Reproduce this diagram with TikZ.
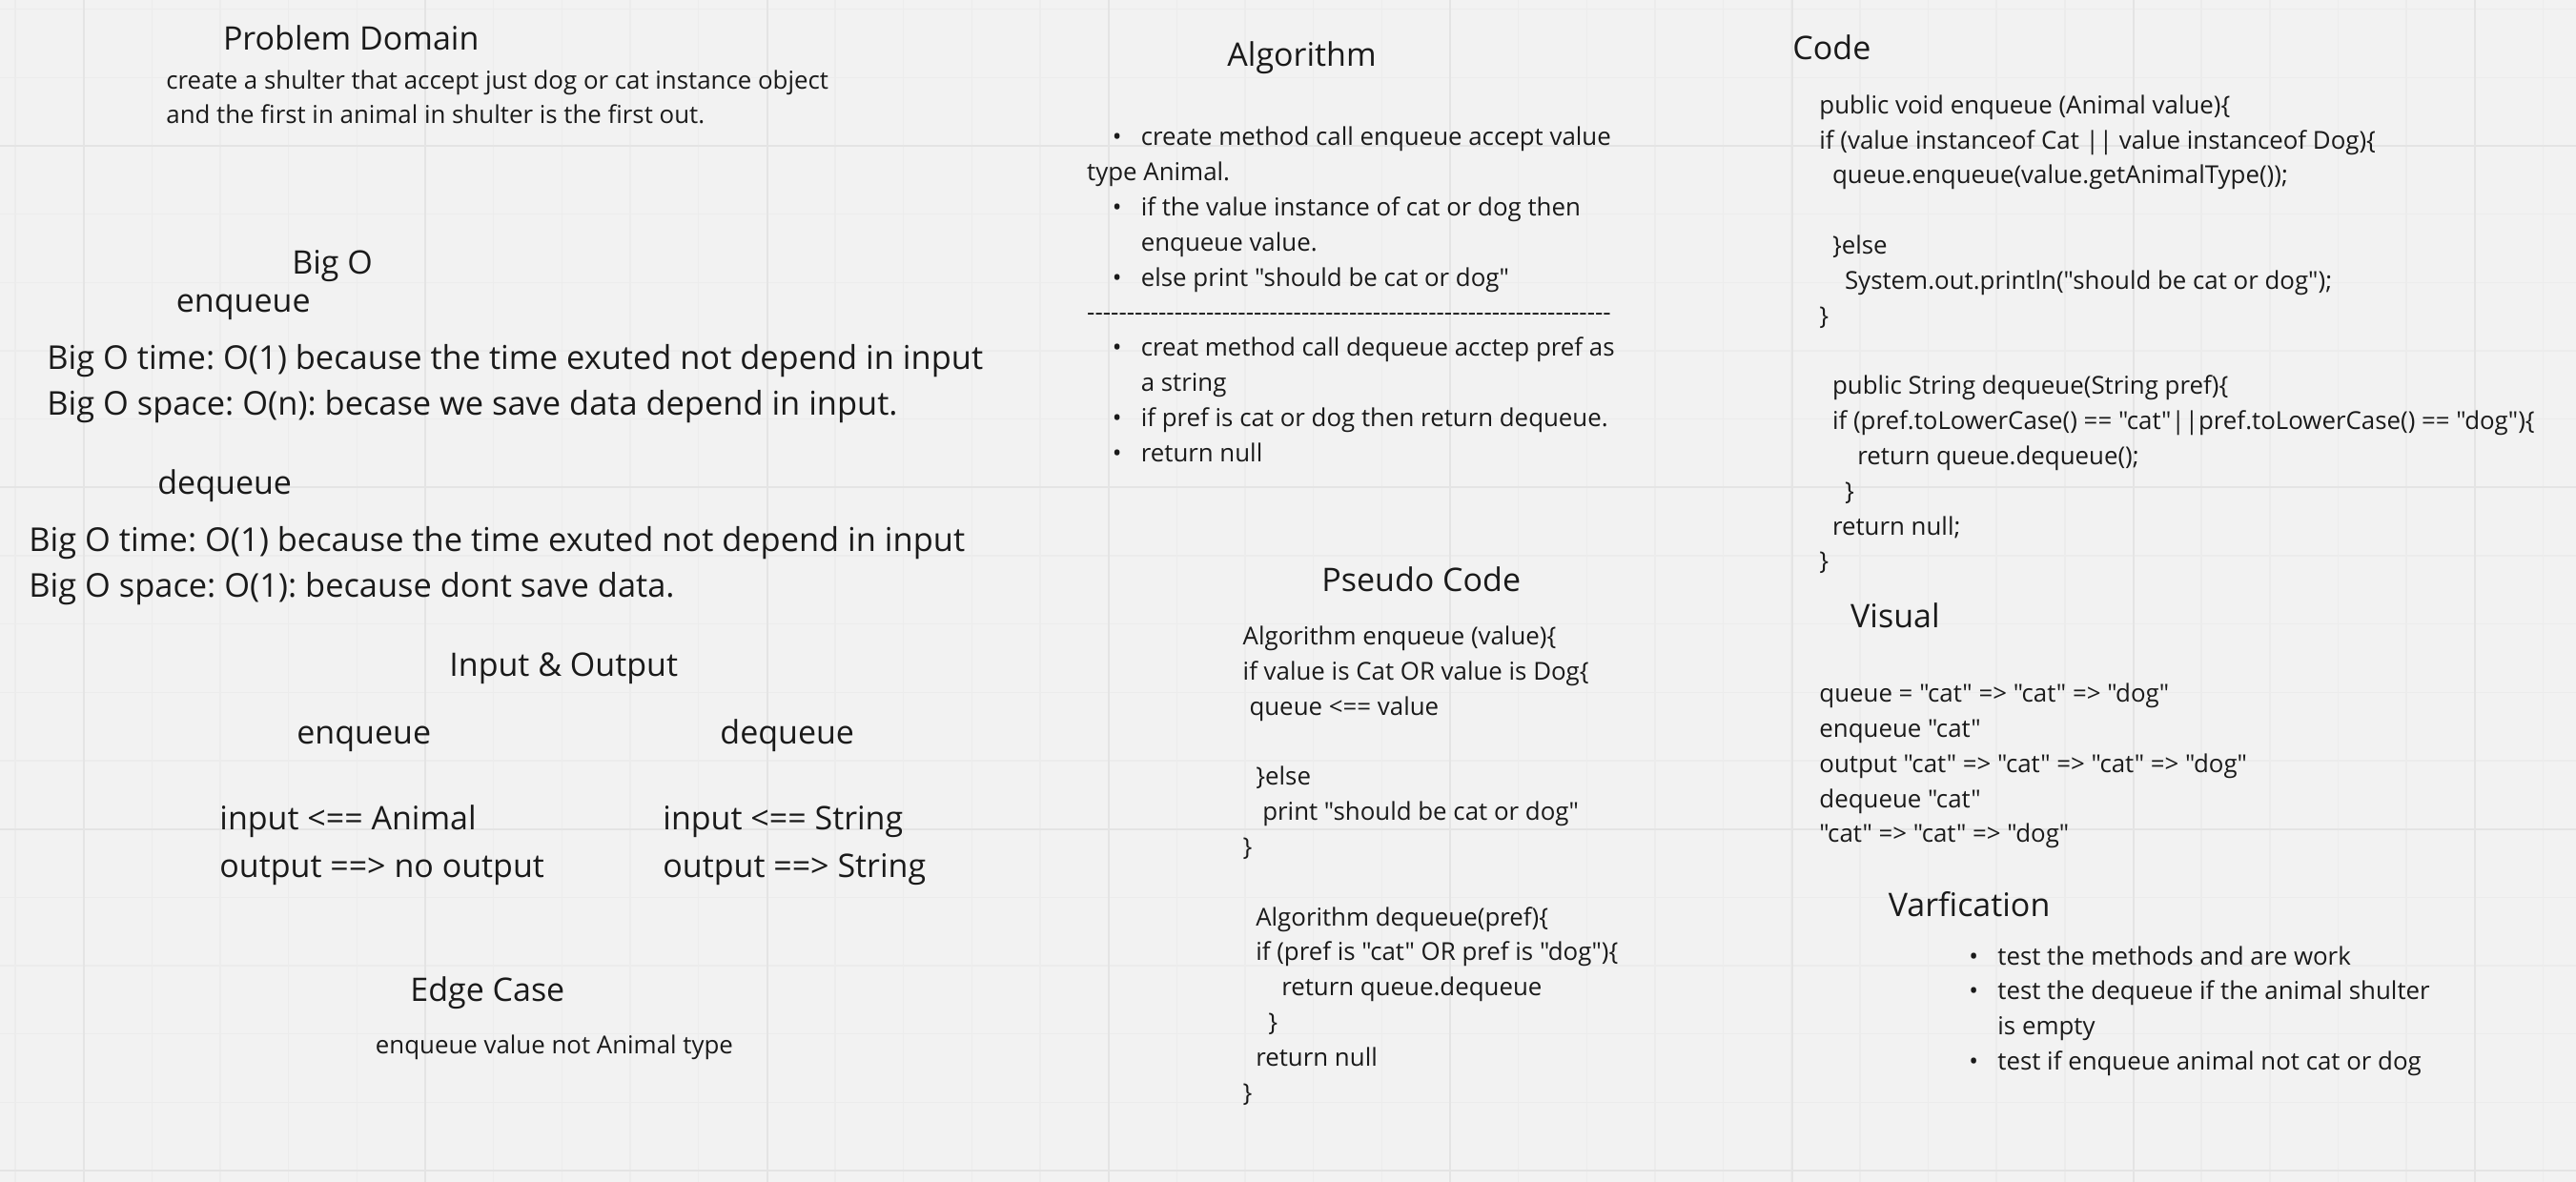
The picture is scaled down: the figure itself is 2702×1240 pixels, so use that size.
\documentclass[tikz,border=0pt]{standalone}
\usepackage{fontspec}
\setmainfont{Open Sans}[Ligatures=TeXOff]
\frenchspacing

\definecolor{board}{RGB}{242,242,242}
\definecolor{gridmajor}{RGB}{228,228,228}
\definecolor{gridminor}{RGB}{236,236,236}
\definecolor{ink}{RGB}{26,26,26}

\newcommand{\bul}{\makebox[15pt][l]{•}}

% multi-line nodes sit on the baseline of their last line
\tikzset{
  head/.style={anchor=base west, inner sep=0, text=ink,
    font=\fontsize{17}{20}\selectfont},
  note/.style={anchor=base west, inner sep=0, align=left, text=ink,
    font=\fontsize{12.93}{18.4}\selectfont},
  bigline/.style={anchor=base west, inner sep=0, align=left, text=ink,
    font=\fontsize{17.2}{23.8}\selectfont},
  ioline/.style={anchor=base west, inner sep=0, align=left, text=ink,
    font=\fontsize{17}{25}\selectfont}
}

\begin{document}
\begin{tikzpicture}[x=0.5pt, y=-0.5pt]
  % board
  \fill[board] (0,0) rectangle (2702,1240);
  \useasboundingbox (0,0) rectangle (2702,1240);
  \foreach \k in {0,...,37}
    \draw[gridminor, line width=0.7pt] ({16+71.66*\k},0) -- ({16+71.66*\k},1240);
  \foreach \k in {0,...,17}
    \draw[gridminor, line width=0.7pt] (0,{9.7+71.66*\k}) -- (2702,{9.7+71.66*\k});
  \foreach \k in {0,...,7}
    \draw[gridmajor, line width=1pt] ({88+358.3*\k},0) -- ({88+358.3*\k},1240);
  \foreach \k in {0,...,3}
    \draw[gridmajor, line width=1pt] (0,{153+358.3*\k}) -- (2702,{153+358.3*\k});

  % left column
  \node[head] (prob) at (233.6,52.6) {Problem Domain};
  \node[note] (probtxt) at (174,130)
    {create a shulter that accept just dog or cat instance object\\
     and the first in animal in shulter is the first out.};
  \node[head] (bigo) at (305.9,288) {Big O};
  \node[head] (bigoenq) at (184.5,327.5) {enqueue};
  \node[bigline] (bigoenqtxt) at (49,435.5)
    {Big O time: O(1) because the time exuted not depend in input\\
     Big O space: O(n): becase we save data depend in input.};
  \node[head] (bigodeq) at (165,518.5) {dequeue};
  \node[bigline] (bigodeqtxt) at (30,626)
    {Big O time: O(1) because the time exuted not depend in input\\
     Big O space: O(1): because dont save data.};
  \node[head] (io) at (471,709) {Input \& Output};
  \node[head] (ioenq) at (311,780) {enqueue};
  \node[head] (iodeq) at (755,780) {dequeue};
  \node[ioline] (ioenqtxt) at (230,920)
    {input <== Animal\\
     output ==> no output};
  \node[ioline] (iodeqtxt) at (695,920)
    {input <== String\\
     output ==> String};
  \node[head] (edge) at (430,1050) {Edge Case};
  \node[note] (edgetxt) at (393.5,1105) {enqueue value not Animal type};

  % middle column
  \node[head] (algo) at (1287,70) {Algorithm};
  \node[note] (algotxt) at (1139.8,484.2)
    {\hspace*{13.3pt}\bul create method call enqueue accept value\\
     type Animal.\\
     \hspace*{13.3pt}\bul if the value instance of cat or dog then\\
     \hspace*{28.3pt}enqueue value.\\
     \hspace*{13.3pt}\bul else print "should be cat or dog"\\
     \foreach \d in {1,...,66}{-}\\
     \hspace*{13.3pt}\bul creat method call dequeue acctep pref as\\
     \hspace*{28.3pt}a string\\
     \hspace*{13.3pt}\bul if pref is cat or dog then return dequeue.\\
     \hspace*{13.3pt}\bul return null};
  \node[head] (pseudo) at (1386,620.5) {Pseudo Code};
  \node[note] (pseudotxt) at (1303.3,1155)
    {Algorithm enqueue (value)\{\\
     if value is Cat OR value is Dog\{\\
     \hspace*{3.4pt}queue <== value\\
     \\
     \hspace*{6.8pt}\}else\\
     \hspace*{10.3pt}print "should be cat or dog"\\
     \}\\
     \\
     \hspace*{6.8pt}Algorithm dequeue(pref)\{\\
     \hspace*{6.8pt}if (pref is "cat" OR pref is "dog")\{\\
     \hspace*{20.3pt}return queue.dequeue\\
     \hspace*{13.3pt}\}\\
     \hspace*{6.8pt}return null\\
     \}};

  % right column
  \node[head] (code) at (1880,63) {Code};
  \node[note] (codetxt) at (1908,597.8)
    {public void enqueue (Animal value)\{\\
     if (value instanceof Cat || value instanceof Dog)\{\\
     \hspace*{6.8pt}queue.enqueue(value.getAnimalType());\\
     \\
     \hspace*{6.8pt}\}else\\
     \hspace*{13.3pt}System.out.println("should be cat or dog");\\
     \}\\
     \\
     \hspace*{6.8pt}public String dequeue(String pref)\{\\
     \hspace*{6.8pt}if (pref.toLowerCase() == "cat"||pref.toLowerCase() == "dog")\{\\
     \hspace*{20pt}return queue.dequeue();\\
     \hspace*{13.3pt}\}\\
     \hspace*{6.8pt}return null;\\
     \}};
  \node[head] (visual) at (1940.8,658.3) {Visual};
  \node[note] (visualtxt) at (1908,883.9)
    {queue = "cat" => "cat" => "dog"\\
     enqueue "cat"\\
     output "cat" => "cat" => "cat" => "dog"\\
     dequeue "cat"\\
     "cat" => "cat" => "dog"};
  \node[head] (verif) at (1980.4,961) {Varfication};
  \node[note] (veriftxt) at (2065,1122.4)
    {\bul test the methods and are work\\
     \bul test the dequeue if the animal shulter\\
     \hspace*{15pt}is empty\\
     \bul test if enqueue animal not cat or dog};
\end{tikzpicture}
\end{document}
